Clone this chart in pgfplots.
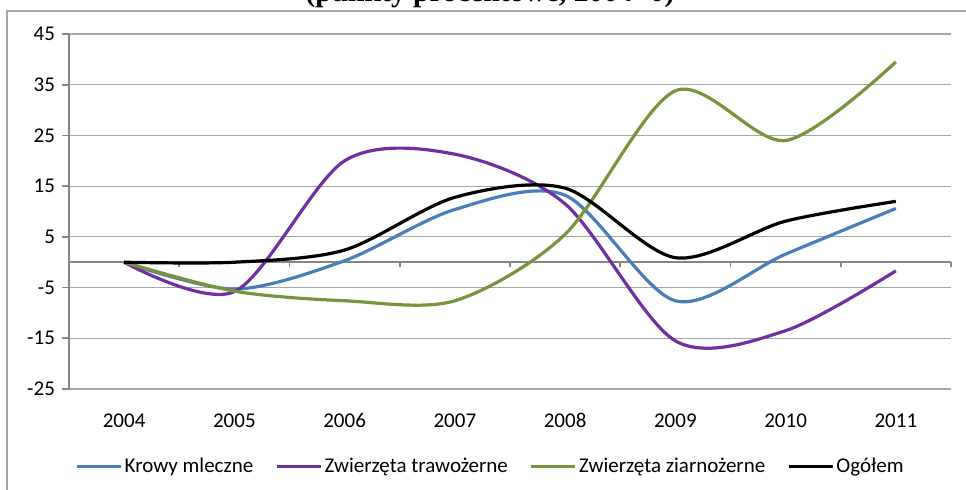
\documentclass[border=0pt]{standalone}
\usepackage{fontspec}
\setmainfont{Carlito}
\newfontfamily\titlefont{Liberation Serif}
\usepackage{pgfplots}
\pgfplotsset{compat=1.18}
\definecolor{krowy}{HTML}{4A7EBB}
\definecolor{traw}{HTML}{7030A0}
\definecolor{ziarn}{HTML}{77933C}
\definecolor{gridc}{HTML}{A6A6A6}
\definecolor{axisc}{HTML}{868686}
\definecolor{framec}{HTML}{A6A6A6}

\begin{document}
\begin{tikzpicture}[x=1pt,y=1pt]
% 1 px of the reference = 0.5pt
\draw[framec, line width=0.6pt] (3.5,-5.5) rectangle (495,-260);
\begin{axis}[
  at={(34.5pt,-194.5pt)}, anchor=south west,
  scale only axis, width=441pt, height=177.5pt,
  xmin=-0.5, xmax=7.5, ymin=-25, ymax=45,
  axis x line*=middle, axis y line*=left,
  x axis line style={-, draw=axisc, line width=0.8pt},
  y axis line style={-, draw=axisc, line width=0.8pt},
  xtick={0,...,7},
  xticklabels={2004,2005,2006,2007,2008,2009,2010,2011},
  minor xtick={-0.5,0.5,...,7.5},
  ytick={-25,-15,...,45},
  ymajorgrids, grid style={gridc, line width=0.6pt},
  tick align=outside, major tick length=3.5pt, minor tick length=2.5pt,
  tick style={axisc, line width=0.8pt},
  major x tick style={draw=none},
  /pgf/number format/assume math mode=true,
  ticklabel style={font=\fontsize{10.5}{12}\selectfont, text=black},
  xticklabel style={anchor=base, yshift=-79pt},
  legend style={draw=none, fill=none, at={(0.478,-0.218)}, anchor=center,
    legend columns=4, font=\fontsize{10.5}{12}\selectfont,
    /tikz/every even column/.append style={column sep=10pt},
    nodes={inner sep=1pt}},
  legend image code/.code={\draw[#1] (0pt,0pt) -- (22pt,0pt);},
  every axis plot/.append style={line width=1.6pt, smooth},
]
\addplot[krowy] coordinates {(0,0) (1,-5.3) (2,0.3) (3,10.4) (4,13.2) (5,-7.6) (6,1.6) (7,10.6)};
\addlegendentry{Krowy mleczne}
\addplot[traw] coordinates {(0,0) (1,-5.8) (2,20) (3,21.3) (4,11.5) (5,-15.5) (6,-13.5) (7,-1.7)};
\addlegendentry{Zwierzęta trawożerne}
\addplot[ziarn] coordinates {(0,0) (1,-5.7) (2,-7.6) (3,-7.6) (4,5.5) (5,33.8) (6,24) (7,39.5)};
\addlegendentry{Zwierzęta ziarnożerne}
\addplot[black] coordinates {(0,0) (1,0) (2,2.4) (3,12.8) (4,14.6) (5,0.9) (6,8.1) (7,12.0)};
\addlegendentry{Ogółem}
\end{axis}
\node[anchor=base, font=\titlefont\bfseries\fontsize{14.8}{17}\selectfont] at (245,-0.5) {(punkty procentowe, 2004=0)};
\pgfresetboundingbox
\useasboundingbox (0,0) rectangle (483,-244.5);
\end{tikzpicture}
\end{document}
